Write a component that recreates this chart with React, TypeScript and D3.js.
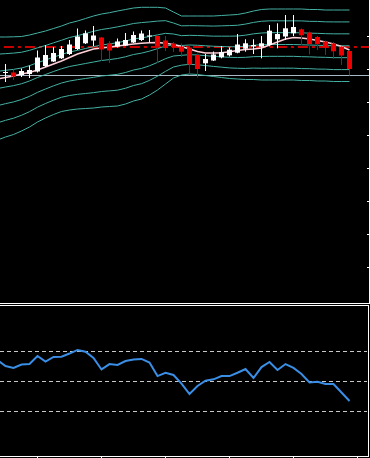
import React from 'react';
import * as d3 from 'd3';

const W = 370;
const H = 458;

// Candles (index 0..43), price units
const openP = [77,77.5,75,76,78.5,84,88.5,91.7,96,101,106.7,109.5,112.5,106.5,103.5,104.5,107.5,110,113.5,114,109.5,106.5,103.5,102.5,95,86.7,89.5,92.7,94.7,97.3,101.3,103.5,103.3,105,110.7,113.5,116.7,120.7,117.5,113,108.5,106.5,103.3,99];
const closeP = [78,73.5,79,80,92.5,95,97,101,105.5,113.5,116.7,114.5,100.5,99.5,108.5,110,115,116.5,114.5,104,102,103,98.3,85.5,81,91,95.5,98,100.3,105.5,106.7,105,106.7,119.3,116,121.7,123,114.7,106,106,102.5,98.7,94.5,81];
const highP = [86,80,81.5,84.5,99.5,105,103,104,110,121.5,119.5,124,113,109,111.5,117,118.5,119.5,120,114.5,114,108,106.5,104,96.5,96,98.5,104,102.5,116,110.7,110.7,114,125,126.7,135,135,121.5,118.5,114,109.5,108,103.5,99.5];
const lowP = [68,70,73,72,77.5,83,88,91,95,100,106,104,89,87,102.5,104,107,109,108,87,99,98,93,75.5,72.5,79,89,91.7,93.5,96.7,98.3,96,91.7,103.7,101.7,110,114,105,95.5,100,95,91.2,85,74.5];

// Indicator lines (index -1..43)
const bandUpper = [113,113,113.2,113.5,115,117,119,121.5,124,127,129,131.5,134,136,137.3,139,140.5,142,142.7,142.7,142.7,142,138,134,134,134,134,134,134.5,135,135.5,137,139,140.5,141,141,141,141,141,140.5,140.5,140,140,140,140];
const bandLower = [10,13,15.5,19,23,28,32,35.5,38.5,40,41,41.5,42,43,43.5,44,46,49,51,55,60,66,72,75,76,75.5,74.5,73.5,72.5,71.5,71,70.5,70.5,70,70,70,70,70,69.5,69.5,69,69,68.5,68.5,68.5];
const maLine = [71,72.5,74,76,77.5,80,83,86,89,92.5,96,98.5,101,102,103,104,105,106,106.7,107.3,107.5,106.7,105.5,103.5,101,98.5,97,97,97.3,98.3,99.5,100.5,101,102,105,108,111,112.5,112,111,109.5,108,106,103.5,100];
const rsiValues = [64.2,60.2,58.9,61.2,61.5,66.9,63.2,66.2,66.4,68.5,70.9,69.7,65.5,57.9,61.5,60.9,63.5,64.5,64.9,62.5,53.5,55.7,54.2,48.5,41.5,46.9,50.4,51.3,53.5,53.5,55.7,58.2,52.2,59.5,62.9,57.5,61.5,58.9,54.9,49.2,49.7,48.2,48.2,42.5,36.9];

const bandSteps = [0, 1, 2, 3, 4, 5, 6];
const levelDashed = 103.3;
const levelGray = 74.7;
const rsiLevels = [70, 50, 30];
const priceTicks = [114, 81, 48, 15, -18, -51, -84, -117];
const timeTicks = [4, 12, 20, 28, 36, 44];

export default function App() {
  const x = d3.scaleLinear().domain([-1, 43]).range([-2.5, 349.5]);
  const y = d3.scaleLinear().domain([-153, 150]).range([303, 0]);
  const yr = d3.scaleLinear().domain([0, 100]).range([456.3, 306.3]);

  const lineGen = d3
    .line<[number, number]>()
    .x((d) => x(d[0]))
    .y((d) => y(d[1]));
  const rsiGen = d3
    .line<[number, number]>()
    .x((d) => x(d[0]))
    .y((d) => yr(d[1]));

  const series = (arr: number[]) => arr.map((v, j) => [j - 1, v] as [number, number]);

  const bands = bandSteps.map((k) =>
    bandUpper.map((u, j) => [j - 1, u + ((bandLower[j] - u) * k) / 6] as [number, number])
  );

  return (
    <svg
      width={W}
      height={H}
      style={{ position: 'absolute', left: 0, top: 0, display: 'block' }}
    >
      <rect x={0} y={0} width={W} height={H} fill="#000" />
      <defs>
        <clipPath id="mainClip">
          <rect x={0} y={0} width={369} height={303} />
        </clipPath>
        <clipPath id="subClip">
          <rect x={0} y={306} width={368} height={150} />
        </clipPath>
      </defs>

      <g clipPath="url(#mainClip)">
        <line
          x1={x(-0.2)}
          x2={369}
          y1={Math.round(y(levelDashed))}
          y2={Math.round(y(levelDashed))}
          stroke="#c80000"
          strokeWidth={2}
          strokeDasharray="10,4,3,4"
        />
        <line
          x1={0}
          x2={369}
          y1={Math.round(y(levelGray)) + 0.5}
          y2={Math.round(y(levelGray)) + 0.5}
          stroke="#a9b9c4"
          strokeWidth={1}
        />
        {bands.map((b, k) => (
          <path key={k} d={lineGen(b) || ''} fill="none" stroke="#45b0a2" strokeWidth={1} />
        ))}
        <path d={lineGen(series(maLine)) || ''} fill="none" stroke="#ffd0d8" strokeWidth={1.5} />
        {openP.map((o, i) => {
          const c = closeP[i];
          const up = c >= o;
          const cx = x(i);
          const top = y(Math.max(o, c));
          const bot = y(Math.min(o, c));
          const col = up ? '#ffffff' : '#ee0000';
          return (
            <g key={i}>
              <line
                x1={cx}
                x2={cx}
                y1={y(highP[i])}
                y2={y(lowP[i])}
                stroke={up ? '#ffffff' : '#c80000'}
                strokeWidth={1}
              />
              <rect x={cx - 2.5} y={top} width={5} height={Math.max(1, bot - top)} fill={col} />
            </g>
          );
        })}
      </g>

      {/* main frame */}
      <line x1={369.5} x2={369.5} y1={0} y2={304} stroke="#fff" strokeWidth={1} />
      <line x1={0} x2={370} y1={303.5} y2={303.5} stroke="#fff" strokeWidth={1} />
      {priceTicks.map((p) => (
        <line
          key={p}
          x1={367}
          x2={370}
          y1={Math.round(y(p)) + 0.5}
          y2={Math.round(y(p)) + 0.5}
          stroke="#fff"
          strokeWidth={1}
        />
      ))}

      {/* sub panel */}
      <line x1={0} x2={369} y1={305.5} y2={305.5} stroke="#fff" strokeWidth={1} />
      <line x1={368.5} x2={368.5} y1={305} y2={457} stroke="#fff" strokeWidth={1} />
      <line x1={0} x2={369} y1={456.5} y2={456.5} stroke="#fff" strokeWidth={1} />
      {timeTicks.map((t) => (
        <line key={t} x1={x(t)} x2={x(t)} y1={456} y2={458} stroke="#fff" strokeWidth={1} />
      ))}
      <g clipPath="url(#subClip)">
        {rsiLevels.map((lv) => (
          <line
            key={lv}
            x1={0}
            x2={367}
            y1={Math.round(yr(lv)) + 0.5}
            y2={Math.round(yr(lv)) + 0.5}
            stroke="#c8c8c8"
            strokeWidth={1}
            strokeDasharray="4,3"
          />
        ))}
        <path d={rsiGen(series(rsiValues)) || ''} fill="none" stroke="#3a8ee6" strokeWidth={2} />
      </g>
    </svg>
  );
}
